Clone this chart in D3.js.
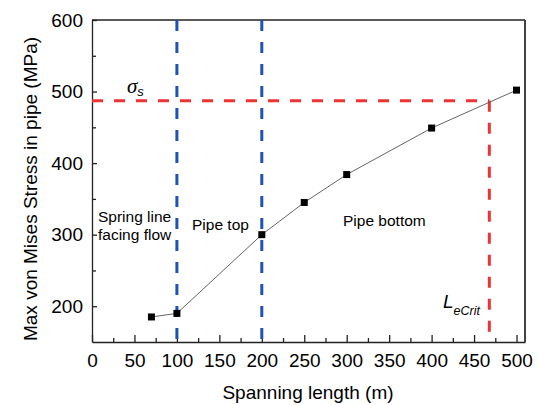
<!DOCTYPE html>
<html>
<head>
<meta charset="utf-8">
<style>
  body { margin: 0; background: #fff; }
  svg { font-family: Arial, "Liberation Sans", sans-serif; }
</style>
</head>
<body>
<svg width="538" height="405"></svg>
<script src="https://d3js.org/d3.v7.min.js"></script>
<script>
  var spans = [70, 100, 200, 250, 300, 400, 500];
  var stress = [185, 190, 300, 345, 384, 449, 502];
  var zones = [100, 200];
  var yieldStress = 487;
  var critLength = 468;
  var xTicks = [0, 50, 100, 150, 200, 250, 300, 350, 400, 450, 500];
  var yTicks = [200, 300, 400, 500, 600];

  var svg = d3.select("svg"),
      margin = {top: 20, right: 13, bottom: 63, left: 92},
      width = +svg.attr("width") - margin.left - margin.right,
      height = +svg.attr("height") - margin.top - margin.bottom,
      g = svg.append("g").attr("transform", "translate(" + margin.left + "," + margin.top + ")");

  var x = d3.scaleLinear().domain([0, 510]).range([0, width]);
  var y = d3.scaleLinear().domain([150, 600]).range([height, 0]);

  var data = spans.map(function(s, i) { return {x: s, y: stress[i]}; });

  // minor ticks
  var xMinor = d3.range(25, 510, 50);
  var yMinor = d3.range(250, 600, 100);

  g.append("g")
      .attr("transform", "translate(0," + height + ")")
      .call(d3.axisBottom(x).tickValues(xTicks).tickSizeInner(-7).tickSizeOuter(0).tickPadding(12));
  g.append("g")
      .attr("transform", "translate(0," + height + ")")
      .call(d3.axisBottom(x).tickValues(xMinor).tickSizeInner(-4).tickSizeOuter(0).tickFormat(""))
      .select(".domain").remove();

  g.append("g")
      .call(d3.axisLeft(y).tickValues(yTicks).tickSizeInner(-5).tickSizeOuter(0).tickPadding(9));
  g.append("g")
      .call(d3.axisLeft(y).tickValues(yMinor).tickSizeInner(-4).tickSizeOuter(0).tickFormat(""))
      .select(".domain").remove();

  g.selectAll(".tick text").attr("font-size", 19).attr("font-family", "Arial, 'Liberation Sans', sans-serif").attr("fill", "#000");
  g.selectAll(".domain, .tick line").attr("stroke", "#222").attr("stroke-width", 1.3);

  // frame
  g.append("line").attr("x1", 0).attr("x2", width).attr("y1", 0).attr("y2", 0)
      .attr("stroke", "#222").attr("stroke-width", 1.3);
  g.append("line").attr("x1", width).attr("x2", width).attr("y1", 0).attr("y2", height)
      .attr("stroke", "#444").attr("stroke-width", 2);

  // zone boundaries
  g.selectAll(".zone")
      .data(zones)
      .enter().append("line")
      .attr("x1", function(d) { return x(d); })
      .attr("x2", function(d) { return x(d); })
      .attr("y1", 0)
      .attr("y2", height)
      .attr("stroke", "#1f52b3")
      .attr("stroke-width", 3)
      .attr("stroke-dasharray", "11,11");

  // yield stress and critical length
  g.append("line")
      .attr("x1", 0).attr("x2", x(critLength))
      .attr("y1", y(yieldStress)).attr("y2", y(yieldStress))
      .attr("stroke", "#ee3333").attr("stroke-width", 3).attr("stroke-dasharray", "11,11");
  g.append("line")
      .attr("x1", x(critLength)).attr("x2", x(critLength))
      .attr("y1", y(yieldStress)).attr("y2", height)
      .attr("stroke", "#ee3333").attr("stroke-width", 3).attr("stroke-dasharray", "11,11");

  var line = d3.line()
      .x(function(d) { return x(d.x); })
      .y(function(d) { return y(d.y); });

  g.append("path")
      .datum(data)
      .attr("fill", "none")
      .attr("stroke", "#555")
      .attr("stroke-width", 0.9)
      .attr("d", line);

  g.selectAll(".pt")
      .data(data)
      .enter().append("rect")
      .attr("x", function(d) { return x(d.x) - 3.5; })
      .attr("y", function(d) { return y(d.y) - 3.5; })
      .attr("width", 7)
      .attr("height", 7)
      .attr("fill", "#000");

  // annotations
  var ann = g.append("g").attr("font-size", 15.5).attr("fill", "#000");
  ann.append("text").attr("x", 6).attr("y", 202).text("Spring line");
  ann.append("text").attr("x", 6).attr("y", 220).text("facing flow");
  ann.append("text").attr("x", 100).attr("y", 210).text("Pipe top");
  ann.append("text").attr("x", 251).attr("y", 206).text("Pipe bottom");

  var sig = g.append("text").attr("x", 35).attr("y", 73)
      .attr("font-size", 21).attr("font-style", "italic").attr("font-family", "'Times New Roman', 'Liberation Serif', serif");
  sig.append("tspan").text("σ");
  sig.append("tspan").attr("font-size", 13).attr("font-family", "Arial, 'Liberation Sans', sans-serif").attr("dy", 3).text("s");

  var lc = g.append("text").attr("x", 351).attr("y", 288)
      .attr("font-size", 19).attr("font-style", "italic");
  lc.append("tspan").text("L");
  lc.append("tspan").attr("font-size", 12.5).attr("dy", 7).text("eCrit");

  // axis titles
  svg.append("text")
      .attr("transform", "translate(37,189) rotate(-90)")
      .attr("text-anchor", "middle")
      .attr("font-size", 19)
      .text("Max von Mises Stress in pipe (MPa)");

  svg.append("text")
      .attr("x", 308)
      .attr("y", 399)
      .attr("text-anchor", "middle")
      .attr("font-size", 19)
      .text("Spanning length (m)");
</script>
</body>
</html>
